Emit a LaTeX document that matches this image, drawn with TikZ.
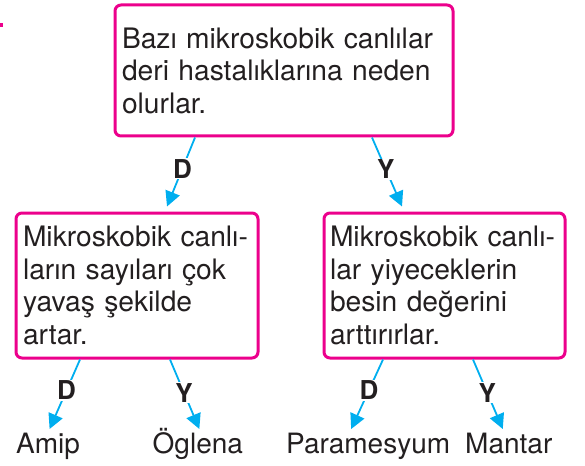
\documentclass[tikz,border=0pt]{standalone}
\usepackage{fontspec}
\setmainfont{TeX Gyre Heros}
\usetikzlibrary{arrows.meta}

\definecolor{kutu}{HTML}{EC008C}
\definecolor{ok}{HTML}{00AEEF}
\definecolor{yazi}{HTML}{231F20}

\begin{document}
\begin{tikzpicture}[
    x=1pt, y=-1pt,
    box/.style={draw=kutu, line width=3pt, rounded corners=6pt, align=left,
      inner xsep=7pt, inner ysep=0pt, font=\fontsize{28.2}{32.5}\selectfont, text=yazi},
    leaf/.style={inner sep=0pt, font=\fontsize{28}{32}\selectfont, text=yazi},
    lbl/.style={fill=white, inner sep=1pt, font=\fontsize{26}{30}\selectfont\bfseries, text=yazi},
    arr/.style={draw=ok, line width=1.8pt, -{Triangle[length=15pt, width=15pt]}}
]
  \useasboundingbox (0,0) rectangle (585,465);
  \fill[kutu] (0,23) rectangle (3,27);

  \node[box, minimum width=338pt, minimum height=131pt, text width=324pt] (top) at (284,70.5)
    {Bazı mikroskobik canlılar\\ deri hastalıklarına neden\\ olurlar.};
  \node[box, minimum width=242pt, minimum height=145pt, text width=228pt, inner xsep=7pt] (left) at (137,285.5)
    {Mikroskobik canlı-\\ ların sayıları çok\\ yavaş şekilde\\ artar.};
  \node[box, minimum width=241pt, minimum height=145pt, text width=229pt, inner xsep=6pt] (right) at (444.5,285.5)
    {Mikroskobik canlı-\\ lar yiyeceklerin\\ besin değerini\\ arttırırlar.};

  \node[leaf, anchor=base west] (amip) at (16,453) {Amip};
  \node[leaf, anchor=base west] (oglena) at (152.5,453) {Öglena};
  \node[leaf, anchor=base west] (parames) at (286,453) {Paramesyum};
  \node[leaf, anchor=base west] (mantar) at (465,453) {Mantar};

  % D = dogru, Y = yanlis
  \draw[arr] ([xshift=-89pt]top.south) -- node[lbl, pos=0.45] {D} ([xshift=30pt, yshift=5pt]left.north);
  \draw[arr] ([xshift=88pt]top.south) -- node[lbl, pos=0.46] {Y} ([xshift=-42.5pt, yshift=5pt]right.north);

  \draw[arr] ([xshift=-57pt]left.south) -- node[lbl, pos=0.44] {D} ([xshift=1.5pt, yshift=24pt]amip.base);
  \draw[arr] ([xshift=33pt]left.south) -- node[lbl, pos=0.48] {Y} ([xshift=1.5pt, yshift=24pt]oglena.base);
  \draw[arr] ([xshift=-61.5pt]right.south) -- node[lbl, pos=0.44] {D} ([xshift=-17pt, yshift=24pt]parames.base);
  \draw[arr] ([xshift=28.5pt]right.south) -- node[lbl, pos=0.48] {Y} ([xshift=-6pt, yshift=24pt]mantar.base);
\end{tikzpicture}
\end{document}
